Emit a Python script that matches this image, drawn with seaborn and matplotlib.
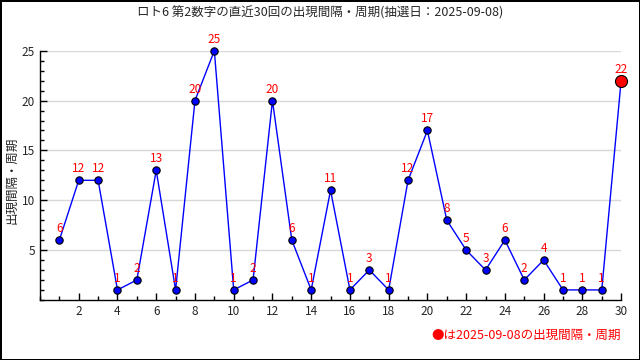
import numpy as np
import pandas as pd
import seaborn as sns
import matplotlib.pyplot as plt
from matplotlib.ticker import MultipleLocator

# data
draws = list(range(1, 31))
intervals = [6, 12, 12, 1, 2, 13, 1, 20, 25, 1, 2, 20, 6, 1, 11,
             1, 3, 1, 12, 17, 8, 5, 3, 6, 2, 4, 1, 1, 1, 22]
title = "ロト6 第2数字の直近30回の出現間隔・周期(抽選日：2025-09-08)"
ylabel = "出現間隔・周期"
note = "●は2025-09-08の出現間隔・周期"

df = pd.DataFrame({"draw": draws, "interval": intervals})

sns.set_style("white")
plt.rcParams['font.family'] = ['Noto Sans CJK JP', 'DejaVu Sans']

fig = plt.figure(figsize=(6.4, 3.6), dpi=100, edgecolor="black", linewidth=2)
ax = fig.add_axes([0.0625, 0.167, 0.908, 0.692])

sns.lineplot(data=df, x="draw", y="interval", color="blue", linewidth=1, ax=ax)
sns.scatterplot(data=df.iloc[:-1], x="draw", y="interval", color="blue",
                edgecolor="black", s=28, linewidth=0.8, ax=ax, zorder=3, clip_on=False)
sns.scatterplot(data=df.iloc[-1:], x="draw", y="interval", color="red",
                edgecolor="black", s=75, linewidth=0.8, ax=ax, zorder=4, clip_on=False)

for x, y in zip(draws, intervals):
    ax.text(x, y + 0.5, str(y), color="red", ha="center", va="bottom", fontsize=8.5)

ax.set_xlim(0, 30)
ax.set_ylim(0, 25)
ax.set_xticks(list(range(2, 31, 2)))
ax.xaxis.set_minor_locator(MultipleLocator(1))
ax.set_yticks([5, 10, 15, 20, 25])
ax.yaxis.set_minor_locator(MultipleLocator(1))
ax.tick_params(axis="both", which="major", direction="in", length=5, labelsize=8.5, color="black", width=1)
ax.tick_params(axis="both", which="minor", direction="in", length=3, color="black", width=1)
ax.tick_params(axis="x", which="both", bottom=True)
ax.tick_params(axis="y", which="both", left=True)
ax.grid(axis="y", which="major", color="#d8d8d8", linewidth=1)
for s in ["top", "right"]:
    ax.spines[s].set_visible(False)
for s in ["left", "bottom"]:
    ax.spines[s].set_color("black")
    ax.spines[s].set_linewidth(1)

ax.set_xlabel("")
ax.set_ylabel("")
fig.text(0.018, 0.5, ylabel, rotation=90, ha="center", va="center", fontsize=9)
fig.text(0.5, 0.965, title, ha="center", va="center", fontsize=9)
fig.text(0.97, 0.068, note, ha="right", va="center", fontsize=9, color="red")

fig.savefig("out.png", dpi=100, edgecolor=fig.get_edgecolor())
